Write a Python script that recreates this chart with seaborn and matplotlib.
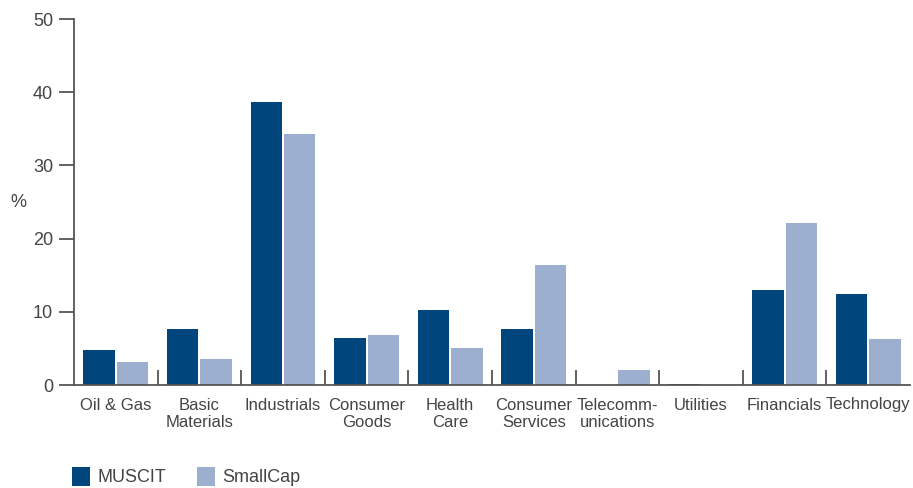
import pandas as pd
import numpy as np
import matplotlib.pyplot as plt
import seaborn as sns
from matplotlib.ticker import FixedLocator
from matplotlib.patches import Patch

sectors = ['Oil & Gas', 'Basic\nMaterials', 'Industrials', 'Consumer\nGoods', 'Health\nCare',
           'Consumer\nServices', 'Telecomm-\nunications', 'Utilities', 'Financials', 'Technology']
muscit = [4.8, 7.65, 38.7, 6.4, 10.25, 7.65, 0.0, 0.15, 13.0, 12.4]
smallcap = [3.1, 3.55, 34.3, 6.8, 5.05, 16.4, 2.05, 0.0, 22.1, 6.3]
series_names = ['MUSCIT', 'SmallCap']
y_ticks = [0, 10, 20, 30, 40, 50]

df = pd.DataFrame({
    'Sector': sectors * 2,
    'Value': muscit + smallcap,
    'Index': [series_names[0]] * len(sectors) + [series_names[1]] * len(sectors),
})

sns.set_style('white')
plt.rcParams['font.family'] = ['Liberation Sans', 'DejaVu Sans']
text_col = '#444444'
axis_col = '#555555'

fig = plt.figure(figsize=(9.13, 4.88), dpi=100)
ax = fig.add_axes([74 / 913, 1 - 385 / 488, (910 - 74) / 913, (385 - 19) / 488])

palette = {'MUSCIT': '#00457c', 'SmallCap': '#9dafce'}
sns.barplot(data=df, x='Sector', y='Value', hue='Index', palette=palette,
            width=0.8, gap=0.06, saturation=1, linewidth=0, edgecolor='none',
            ax=ax, legend=False)

ax.set_xlim(-0.5, len(sectors) - 0.5)
ax.set_ylim(0, 50)
ax.set_yticks(y_ticks)
ax.set_xlabel('')
ax.set_ylabel('')
for s in ['top', 'right']:
    ax.spines[s].set_visible(False)
for s in ['left', 'bottom']:
    ax.spines[s].set_color(axis_col)
    ax.spines[s].set_linewidth(1.3)

ax.tick_params(axis='y', direction='out', length=11, width=1.3, color=axis_col,
               labelsize=13, labelcolor=text_col, pad=4, left=True)
ax.tick_params(axis='x', which='major', length=0, labelsize=12, labelcolor=text_col, pad=9)
ax.xaxis.set_minor_locator(FixedLocator(np.arange(0.5, len(sectors) - 1, 1)))
ax.tick_params(axis='x', which='minor', direction='in', length=11, width=1.3,
               color=axis_col, bottom=True)

fig.text(10 / 913, 1 - 203 / 488, '%', fontsize=13, color=text_col, va='center', ha='left')

# legend at the bottom
handles = [Patch(facecolor=palette[n], edgecolor='none') for n in series_names]
fig.legend(handles, series_names, loc='lower left', bbox_to_anchor=(56 / 913, -0.03),
           ncol=2, frameon=False, handlelength=1.0, handleheight=1.3, handletextpad=0.4,
           columnspacing=1.7, fontsize=13, labelcolor=text_col)

plt.savefig('out.png', dpi=100)
